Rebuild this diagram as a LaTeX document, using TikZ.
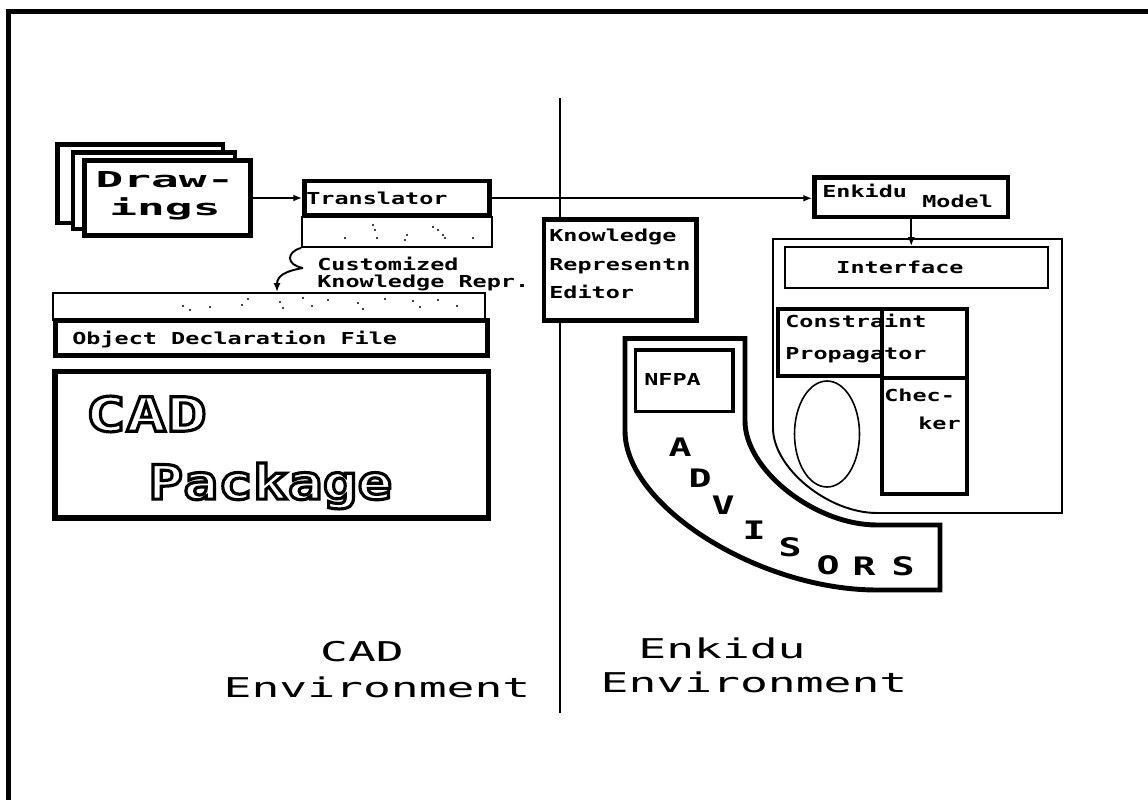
\documentclass[tikz,border=0pt]{standalone}
\usepackage{fontspec}
\usepackage{xcolor}
\usetikzlibrary{positioning, arrows.meta, fit, backgrounds}

\newfontfamily\pixfont{DejaVu Sans Mono}[FakeStretch=1.42]
\newfontfamily\bigpixfont{DejaVu Sans Mono}[FakeStretch=2.1]
\newfontfamily\envfont{DejaVu Sans Mono}[FakeStretch=1.7]
\newfontfamily\advfont{DejaVu Sans Mono}[FakeStretch=1.5]
\newfontfamily\cadfont{DejaVu Sans Mono}[FakeStretch=1.22]
\newfontfamily\cadwidefont{DejaVu Sans Mono}[FakeStretch=1.42]
% hollow letters: stroke the glyph outlines only
\newcommand\hollow[1]{\special{pdf:literal direct 1.8 w 1 Tr}#1\special{pdf:literal direct 0 Tr}}

\begin{document}
\begin{tikzpicture}[
    x=0.02cm, y=-0.02cm,
    box/.style={draw, line width=2.8pt, fill=white, inner sep=0pt},
    midbox/.style={draw, line width=2pt, inner sep=0pt},
    thinbox/.style={draw, line width=1.1pt, inner sep=0pt},
    thinline/.style={line width=1.1pt},
    txt/.style={font=\pixfont\bfseries\fontsize{9.4}{11}\selectfont, inner sep=0pt, anchor=west},
    bigtxt/.style={font=\bigpixfont\bfseries\fontsize{12.5}{16}\selectfont, inner sep=0pt, align=center},
    cadtxt/.style={font=\cadfont\bfseries\fontsize{27}{30}\selectfont, inner sep=0pt, anchor=west},
    advtxt/.style={font=\advfont\bfseries\fontsize{14.5}{16}\selectfont, inner sep=0pt},
    envtxt/.style={font=\envfont\fontsize{15.5}{18}\selectfont, inner sep=0pt},
    arr/.style={-{Latex[length=5pt,width=4pt]}, line width=1.1pt},
]
\useasboundingbox (0,0) rectangle (1148,800);

%% -- frame and divider --------------------------------------------------
\draw[line width=3.4pt] (8.5,800) -- (8.5,11.5) -- (1148,11.5);
\draw[thinline] (560,98) -- (560,713);

%% -- Drawings stack -----------------------------------------------------
\node[box, fit={(57.5,144.5)(223,223)}] (sheet1) {};
\node[box, fit={(73,152.5)(235,229)}]   (sheet2) {};
\node[box, fit={(84.5,160.5)(250.5,235.5)}] (draw) {};
\node[bigtxt] (drawtxt) at (165,196) {Draw-\\ings};

%% -- Translator and its store --------------------------------------------
\node[thinbox, fit={(302,217)(492,247)}] (store) {};
\node[box, fit={(304.5,181)(489.5,215.5)}] (trans) {};
\node[txt] at (306,198) {Translator};
\foreach \x/\y in {373/225, 375/230, 377/238, 345/238, 407/235, 405/240,
                   433/227, 438/230, 443/235, 445/238, 473/238}
  \fill (\x,\y) circle[radius=1.2];

\draw[arr] (draw.east) -- (trans.west |- draw.east);

%% -- Object Declaration File ---------------------------------------------
\node[thinbox, fit={(53,293)(485,320)}] (odfstore) {};
\node[box, fit={(55.5,320.5)(487.5,355.5)}] (odf) {};
\node[txt] at (72,339) {Object Declaration File};
\foreach \x/\y in {183/306, 190/310, 210/307, 242/305, 248/299, 280/302, 283/308,
                   303/298, 312/306, 328/300, 358/303, 363/309, 385/299,
                   413/301, 420/307, 438/300, 457/306}
  \fill (\x,\y) circle[radius=1.2];

%% -- customised knowledge brace -------------------------------------------
\coordinate (brace) at (303,268);
\coordinate (braceend) at (277,292);
\draw[thinline] (store.south west) .. controls (286,252) and (286,265) .. (brace);
\draw[arr] (brace) .. controls (285,271) and (277,276) .. (braceend);
\node[txt] at (317,264) {Customized};
\node[txt] at (317,283) {Knowledge Repr.};

%% -- CAD Package ----------------------------------------------------------
\node[box, line width=3.4pt, fit={(55,371.5)(488.5,518)}] (cad) {};
\node[cadtxt, font=\cadwidefont\bfseries\fontsize{27}{30}\selectfont]
     at (85,414) {\hollow{CAD}};
\node[cadtxt] at (148,486) {\hollow{Package}};

%% -- Knowledge Representation Editor --------------------------------------
\node[box, fit={(544,219.5)(696.5,320.5)}] (kre) {};
\node[txt, font=\pixfont\bfseries\fontsize{9.4}{16.4}\selectfont, align=left]
     at (549,264) {Knowledge\\Representn\\Editor};

%% -- Enkidu Model ---------------------------------------------------------
\node[box, fit={(814.5,177.5)(1008,217)}] (model) {};
\node[txt] at (822,191) {Enkidu};
\node[txt] at (922,201) {Model};
\draw[arr] (trans.east) -- (trans.east -| model.west);

%% -- Enkidu region --------------------------------------------------------
\draw[thinline] (773,428) -- (773,239) -- (1062,239) -- (1062,513) -- (877,513)
   .. controls (828,513) and (773,468) .. (773,428);
\node[thinbox, fit={(785,247)(1048,288)}] (iface) {};
\node[txt, anchor=center] at (900,267) {Interface};
\draw[arr] (model.south) -- (model.south |- iface.north);

\node[midbox, fit={(778,309)(882,376)}] (cprop) {};
\node[midbox, fit={(882,309)(967,494)}] (check) {};
\draw[line width=2pt] (cprop.south east) -- (check.east |- cprop.south east);
\node[txt, font=\pixfont\bfseries\fontsize{9.4}{18.7}\selectfont, align=left]
     at (785,338.5) {Constraint\\Propagator};
\node[txt] at (884,395) {Chec-};
\node[txt] at (918,423) {ker};
\draw[line width=0.9pt] (827,434) ellipse [x radius=32.5, y radius=53];

%% -- Advisors -------------------------------------------------------------
\draw[line width=2.8pt] (625,431) -- (625,338.5) -- (745,338.5) -- (745,421)
   .. controls (745,470) and (815,525) .. (877,525) -- (940,525) -- (940,590)
   -- (877,590) .. controls (759,590) and (625,506) .. (625,431) -- cycle;
\node[midbox, fit={(635.5,350)(733,411.5)}] (nfpa) {};
\node[txt] at (644,379) {NFPA};
\foreach \l/\x/\y in {A/680/447, D/700/478, V/723/505, I/754/530,
                      S/790/547, O/828/565, R/864/566, S/903/566}
  \node[advtxt] (adv\x) at (\x,\y) {\l};

%% -- environment labels ---------------------------------------------------
\node[envtxt] (cadlbl) at (362,652) {CAD};
\node[envtxt] (cadenv) at (377,687) {Environment};
\node[envtxt] (enklbl) at (722,648) {Enkidu};
\node[envtxt] (enkenv) at (754,682) {Environment};

\end{tikzpicture}
\end{document}
